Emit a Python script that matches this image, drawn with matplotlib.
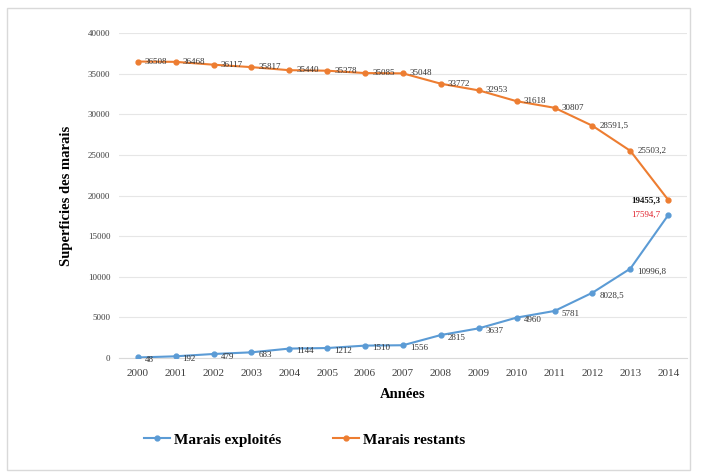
import matplotlib
matplotlib.use("Agg")
import matplotlib.pyplot as plt
from matplotlib.patches import Rectangle
from matplotlib.lines import Line2D

years = ["2000", "2001", "2002", "2003", "2004", "2005", "2006", "2007",
         "2008", "2009", "2010", "2011", "2012", "2013", "2014"]
marais_exploites = [48, 192, 479, 683, 1144, 1212, 1510, 1556,
                    2815, 3637, 4960, 5781, 8028.5, 10996.8, 17594.7]
marais_restants = [36508, 36468, 36117, 35817, 35440, 35378, 35085, 35048,
                   33772, 32953, 31618, 30807, 28591.5, 25503.2, 19455.3]
y_ticks = [0, 5000, 10000, 15000, 20000, 25000, 30000, 35000, 40000]

BLUE = "#5B9BD5"
ORANGE = "#ED7D31"
SERIF = ["Liberation Serif", "DejaVu Serif"]

def fmt(v):
    if float(v).is_integer():
        return f"{int(v)}"
    return f"{v:.1f}".replace(".", ",")

fig = plt.figure(figsize=(7.07, 4.74), dpi=100)
fig.patch.set_facecolor("white")
fig.patches.append(Rectangle((0.010, 0.008), 0.966, 0.975, transform=fig.transFigure,
                             fill=False, edgecolor="#d9d9d9", linewidth=1.0))

ax = fig.add_axes([0.168, 0.245, 0.804, 0.685])
x = list(range(len(years)))

ax.plot(x, marais_exploites, color=BLUE, linewidth=1.5, marker="o", markersize=3.5,
        markerfacecolor=BLUE, markeredgecolor=BLUE, zorder=3)
ax.plot(x, marais_restants, color=ORANGE, linewidth=1.5, marker="o", markersize=3.5,
        markerfacecolor=ORANGE, markeredgecolor=ORANGE, zorder=3)

last = len(years) - 1
for i, v in enumerate(marais_exploites):
    if i == last:
        ax.annotate(fmt(v), (i, v), xytext=(-6, 0), textcoords="offset points",
                    ha="right", va="center", fontsize=6.5, color="#e0202a", family=SERIF)
    else:
        ax.annotate(fmt(v), (i, v), xytext=(5, -2), textcoords="offset points",
                    ha="left", va="center", fontsize=6.5, color="#333333", family=SERIF)
for i, v in enumerate(marais_restants):
    if i == last:
        ax.annotate(fmt(v), (i, v), xytext=(-6, 0), textcoords="offset points",
                    ha="right", va="center", fontsize=6.5, color="#111111",
                    family=SERIF, fontweight="bold")
    else:
        ax.annotate(fmt(v), (i, v), xytext=(5, 0), textcoords="offset points",
                    ha="left", va="center", fontsize=6.5, color="#333333", family=SERIF)

ax.set_xlim(-0.5, len(years) - 0.5)
ax.set_ylim(0, 40000)
ax.set_yticks(y_ticks)
ax.set_yticklabels([str(t) for t in y_ticks], family=SERIF, fontsize=6.5, color="#404040")
ax.set_xticks(x)
ax.set_xticklabels(years, family=SERIF, fontsize=8, color="#404040")
ax.tick_params(axis="y", length=0, pad=6)
ax.tick_params(axis="x", length=0, pad=8)
ax.grid(axis="y", color="#e6e6e6", linewidth=0.8)
ax.set_axisbelow(True)
for side in ("top", "right", "left"):
    ax.spines[side].set_visible(False)
ax.spines["bottom"].set_color("#d9d9d9")

ax.set_xlabel("Années", family=SERIF, fontsize=10.5, fontweight="bold", labelpad=7)
ax.set_ylabel("Superficies des marais", family=SERIF, fontsize=10.5, fontweight="bold",
              labelpad=11)

handles = [
    Line2D([], [], color=BLUE, linewidth=1.5, marker="o", markersize=3.5),
    Line2D([], [], color=ORANGE, linewidth=1.5, marker="o", markersize=3.5),
]
fig.legend(handles, ["Marais exploités", "Marais restants"], loc="center",
           bbox_to_anchor=(0.431, 0.072), ncol=2, frameon=False, handlelength=1.7,
           columnspacing=3.4, handletextpad=0.25,
           prop={"family": SERIF, "size": 11, "weight": "bold"})

fig.savefig("out.png", dpi=100, facecolor="white")
